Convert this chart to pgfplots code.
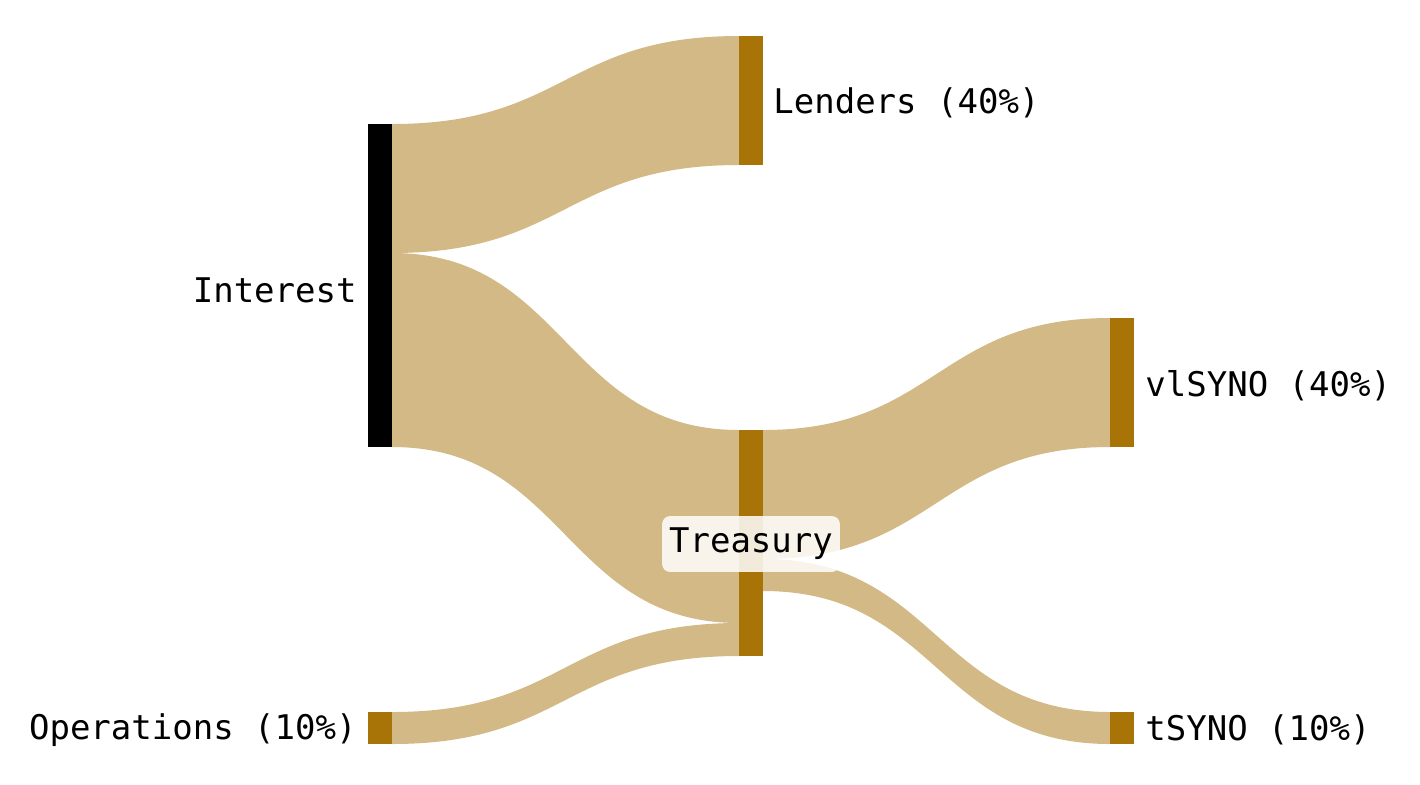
\documentclass[border=0pt]{standalone}
\usepackage{fontspec}
\setmainfont{DejaVu Sans Mono}
\usepackage{pgfplots}
\pgfplotsset{compat=1.18}
\definecolor{flowc}{RGB}{211,185,133}
\definecolor{nodec}{RGB}{168,116,8}
\begin{document}
\begin{tikzpicture}[lab/.style={font=\fontsize{17}{20}\selectfont}]
\begin{axis}[
  scale only axis, width=710pt, height=392pt,
  xmin=0, xmax=1420, ymin=0, ymax=784, y dir=reverse,
  hide axis, clip=false,
]
\path (rel axis cs:0,0) rectangle (rel axis cs:1,1);
% links
% Interest -> Lenders (40)
\fill[flowc] (axis cs:392,124) .. controls (axis cs:565.5,124) and (axis cs:565.5,36) .. (axis cs:739,36)
  -- (axis cs:739,165) .. controls (axis cs:565.5,165) and (axis cs:565.5,253) .. (axis cs:392,253) -- cycle;
% Interest -> Treasury (60)
\fill[flowc] (axis cs:392,253) .. controls (axis cs:565.5,253) and (axis cs:565.5,430) .. (axis cs:739,430)
  -- (axis cs:739,623) .. controls (axis cs:565.5,623) and (axis cs:565.5,447) .. (axis cs:392,447) -- cycle;
% Operations -> Treasury (10)
\fill[flowc] (axis cs:392,712) .. controls (axis cs:565.5,712) and (axis cs:565.5,623) .. (axis cs:739,623)
  -- (axis cs:739,656) .. controls (axis cs:565.5,656) and (axis cs:565.5,744) .. (axis cs:392,744) -- cycle;
% Treasury -> vlSYNO (40)
\fill[flowc] (axis cs:763,430) .. controls (axis cs:936.5,430) and (axis cs:936.5,318) .. (axis cs:1110,318)
  -- (axis cs:1110,447) .. controls (axis cs:936.5,447) and (axis cs:936.5,559) .. (axis cs:763,559) -- cycle;
% Treasury -> tSYNO (10)
\fill[flowc] (axis cs:763,559) .. controls (axis cs:936.5,559) and (axis cs:936.5,712) .. (axis cs:1110,712)
  -- (axis cs:1110,744) .. controls (axis cs:936.5,744) and (axis cs:936.5,591) .. (axis cs:763,591) -- cycle;
% nodes
\addplot[fill=black, draw=none] coordinates {(368,124) (392,124) (392,447) (368,447)} --cycle;
\addplot[fill=nodec, draw=none] coordinates {(368,712) (392,712) (392,744) (368,744)} --cycle;
\addplot[fill=nodec, draw=none] coordinates {(739,36) (763,36) (763,165) (739,165)} --cycle;
\addplot[fill=nodec, draw=none] coordinates {(739,430) (763,430) (763,656) (739,656)} --cycle;
\addplot[fill=nodec, draw=none] coordinates {(1110,318) (1134,318) (1134,447) (1110,447)} --cycle;
\addplot[fill=nodec, draw=none] coordinates {(1110,712) (1134,712) (1134,744) (1110,744)} --cycle;
% labels
\node[lab, anchor=east, inner sep=0pt] at (axis cs:357,290) {Interest};
\node[lab, anchor=east, inner sep=0pt] at (axis cs:357,730) {Operations (10\%)};
\node[lab, anchor=west, inner sep=0pt] at (axis cs:773,103) {Lenders (40\%)};
\node[lab, anchor=west, inner sep=0pt] at (axis cs:1145,386) {vlSYNO (40\%)};
\node[lab, anchor=west, inner sep=0pt] at (axis cs:1145,730) {tSYNO (10\%)};
\node[lab, fill=white, fill opacity=0.85, text opacity=1, rounded corners=4pt, inner xsep=3.5pt, inner ysep=6pt] at (axis cs:751,544) {Treasury};
\end{axis}
\end{tikzpicture}
\end{document}
